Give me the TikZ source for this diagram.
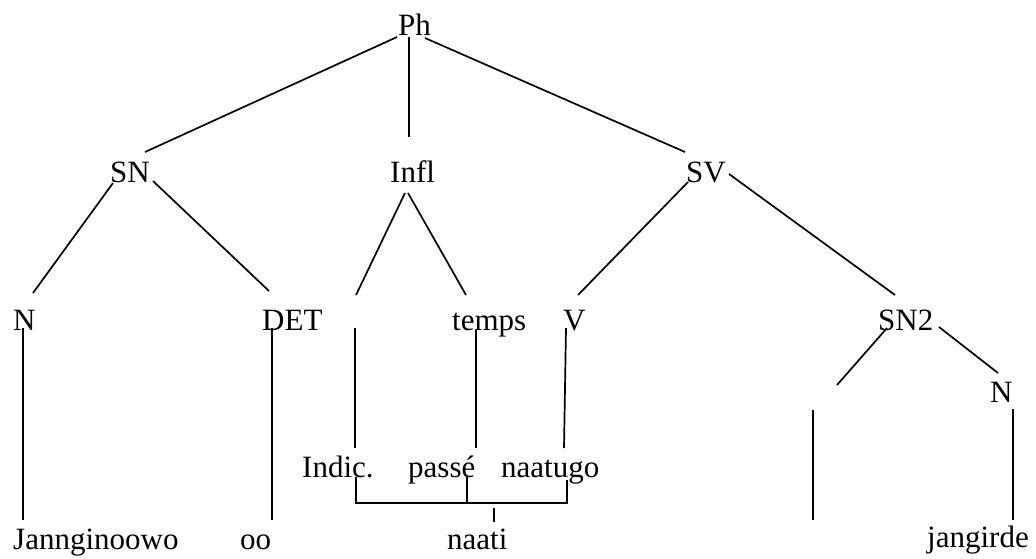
\documentclass[tikz,border=0pt]{standalone}
\usepackage{fontspec}
\setmainfont{Liberation Serif}
\usepackage{tikz}

\begin{document}
\begin{tikzpicture}[x=1pt,y=-1pt]
\tikzstyle{every node}=[font=\fontsize{31}{36}\selectfont,inner sep=0pt,anchor=base west]
\tikzstyle{branch}=[line width=1.7pt]
\useasboundingbox (0,0) rectangle (1036,558);
% labels
\node (ph) at (398,35) {Ph};
\node (sn) at (110,182) {SN};
\node (infl) at (390,182) {Infl};
\node (sv) at (686,182) {SV};
\node (n) at (13,330) {N};
\node (det) at (262,330) {DET};
\node (temps) at (452,330) {temps};
\node (v) at (563,330) {V};
\node (sntwo) at (878,330) {SN2};
\node (ntwo) at (990,402) {N};
\node (indic) at (302,477) {Indic.};
\node (passe) at (408,477) {passé};
\node (naatugo) at (501,477) {naatugo};
\node (jann) at (13,549) {Jannginoowo};
\node (oo) at (240,549) {oo};
\node (naati) at (447,549) {naati};
\node (jang) at (927,547) {jangirde};
% line ends
\coordinate (ph1) at (397,37); \coordinate (sn0) at (145,152);
\coordinate (ph2) at (409,37); \coordinate (infl0) at (409,137);
\coordinate (ph3) at (425,38); \coordinate (sv0) at (685,152);
\coordinate (sn1) at (113,183); \coordinate (n0) at (33,293);
\coordinate (sn2) at (153,181); \coordinate (det0) at (269,291);
\coordinate (infl1) at (405,193); \coordinate (mood0) at (356,295);
\coordinate (infl2) at (408,193); \coordinate (temps0) at (466,295);
\coordinate (sv1) at (688,182); \coordinate (v0) at (578,295);
\coordinate (sv2) at (729,174); \coordinate (sntwo0) at (895,295);
\coordinate (n1) at (23,328); \coordinate (jann0) at (23,520);
\coordinate (det1) at (272,328); \coordinate (oo0) at (272,520);
\coordinate (mood1) at (355,328); \coordinate (indic0) at (355,448);
\coordinate (temps1) at (476,330); \coordinate (passe0) at (476,448);
\coordinate (v1) at (566,328); \coordinate (naatugo0) at (564,448);
\coordinate (indic1) at (356,477); \coordinate (passe1) at (467,477);
\coordinate (naatugo1) at (567,480);
\coordinate (naati0) at (494,508); \coordinate (naati1) at (494,522);
\coordinate (sntwo1) at (887,328); \coordinate (empty0) at (837,385);
\coordinate (sntwo2) at (939,327); \coordinate (ntwo0) at (998,373);
\coordinate (empty1) at (813,410); \coordinate (empty2) at (813,520);
\coordinate (ntwo1) at (1013,409); \coordinate (jang0) at (1013,520);
% branches
\draw[branch] (ph1)--(sn0);
\draw[branch] (ph2)--(infl0);
\draw[branch] (ph3)--(sv0);
\draw[branch] (sn1)--(n0);
\draw[branch] (sn2)--(det0);
\draw[branch] (infl1)--(mood0);
\draw[branch] (infl2)--(temps0);
\draw[branch] (sv1)--(v0);
\draw[branch] (sv2)--(sntwo0);
\draw[branch] (n1)--(jann0);
\draw[branch] (det1)--(oo0);
\draw[branch] (mood1)--(indic0);
\draw[branch] (temps1)--(passe0);
\draw[branch] (v1)--(naatugo0);
\draw[branch] (indic1)--(indic1|-0,503)--(naatugo1|-0,503)--(naatugo1);
\draw[branch] (passe1)--(passe1|-0,503);
\draw[branch] (naati0)--(naati1);
\draw[branch] (sntwo1)--(empty0);
\draw[branch] (sntwo2)--(ntwo0);
\draw[branch] (empty1)--(empty2);
\draw[branch] (ntwo1)--(jang0);
\end{tikzpicture}
\end{document}
